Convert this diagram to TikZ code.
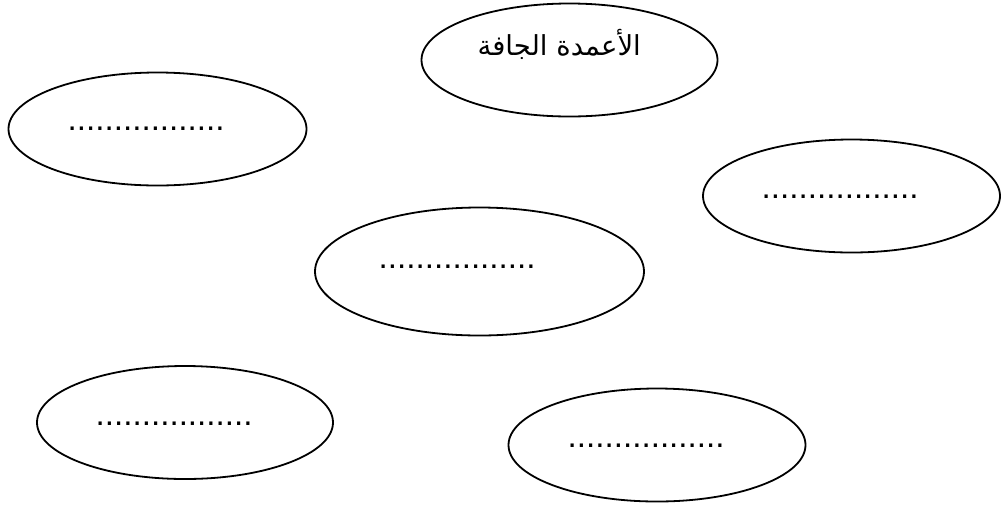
\documentclass[tikz,border=0pt]{standalone}
\usepackage{fontspec}
\setmainfont{Liberation Sans}
\newfontfamily\arabicfont[Script=Arabic]{DejaVu Sans}
\TeXXeTstate=1
\usetikzlibrary{shapes.geometric}
\tikzset{
  oval/.style={draw=black, line width=1.8pt, ellipse, inner sep=0pt},
  dotsline/.style={inner sep=0pt, anchor=base west, font=\fontsize{33.2}{40}\selectfont},
  artext/.style={inner sep=0pt, anchor=base east, font=\arabicfont\fontsize{27.5}{34}\selectfont}
}
\begin{document}
\begin{tikzpicture}[x=1pt,y=-1pt]
\useasboundingbox (0,0) rectangle (1006,507);
\node[oval, minimum width=296pt, minimum height=113pt] (e1) at (569.5,60) {};
\node[oval, minimum width=298pt, minimum height=113pt] (e2) at (157.5,129) {};
\node[oval, minimum width=297pt, minimum height=113pt] (e3) at (851.5,196) {};
\node[oval, minimum width=329pt, minimum height=128pt] (e4) at (479.5,271.5) {};
\node[oval, minimum width=296pt, minimum height=113pt] (e5) at (185,422.5) {};
\node[oval, minimum width=297pt, minimum height=113pt] (e6) at (657,445) {};
\node[artext] (t1) at (641,55) {\beginR الأعمدة الجافة\endR};
\node[dotsline] (t2) at (67.5,130) {.................};
\node[dotsline] (t3) at (761.5,198.5) {.................};
\node[dotsline] (t4) at (378.5,268.5) {.................};
\node[dotsline] (t5) at (95.5,425) {.................};
\node[dotsline] (t6) at (567.5,447.5) {.................};
\end{tikzpicture}
\end{document}
